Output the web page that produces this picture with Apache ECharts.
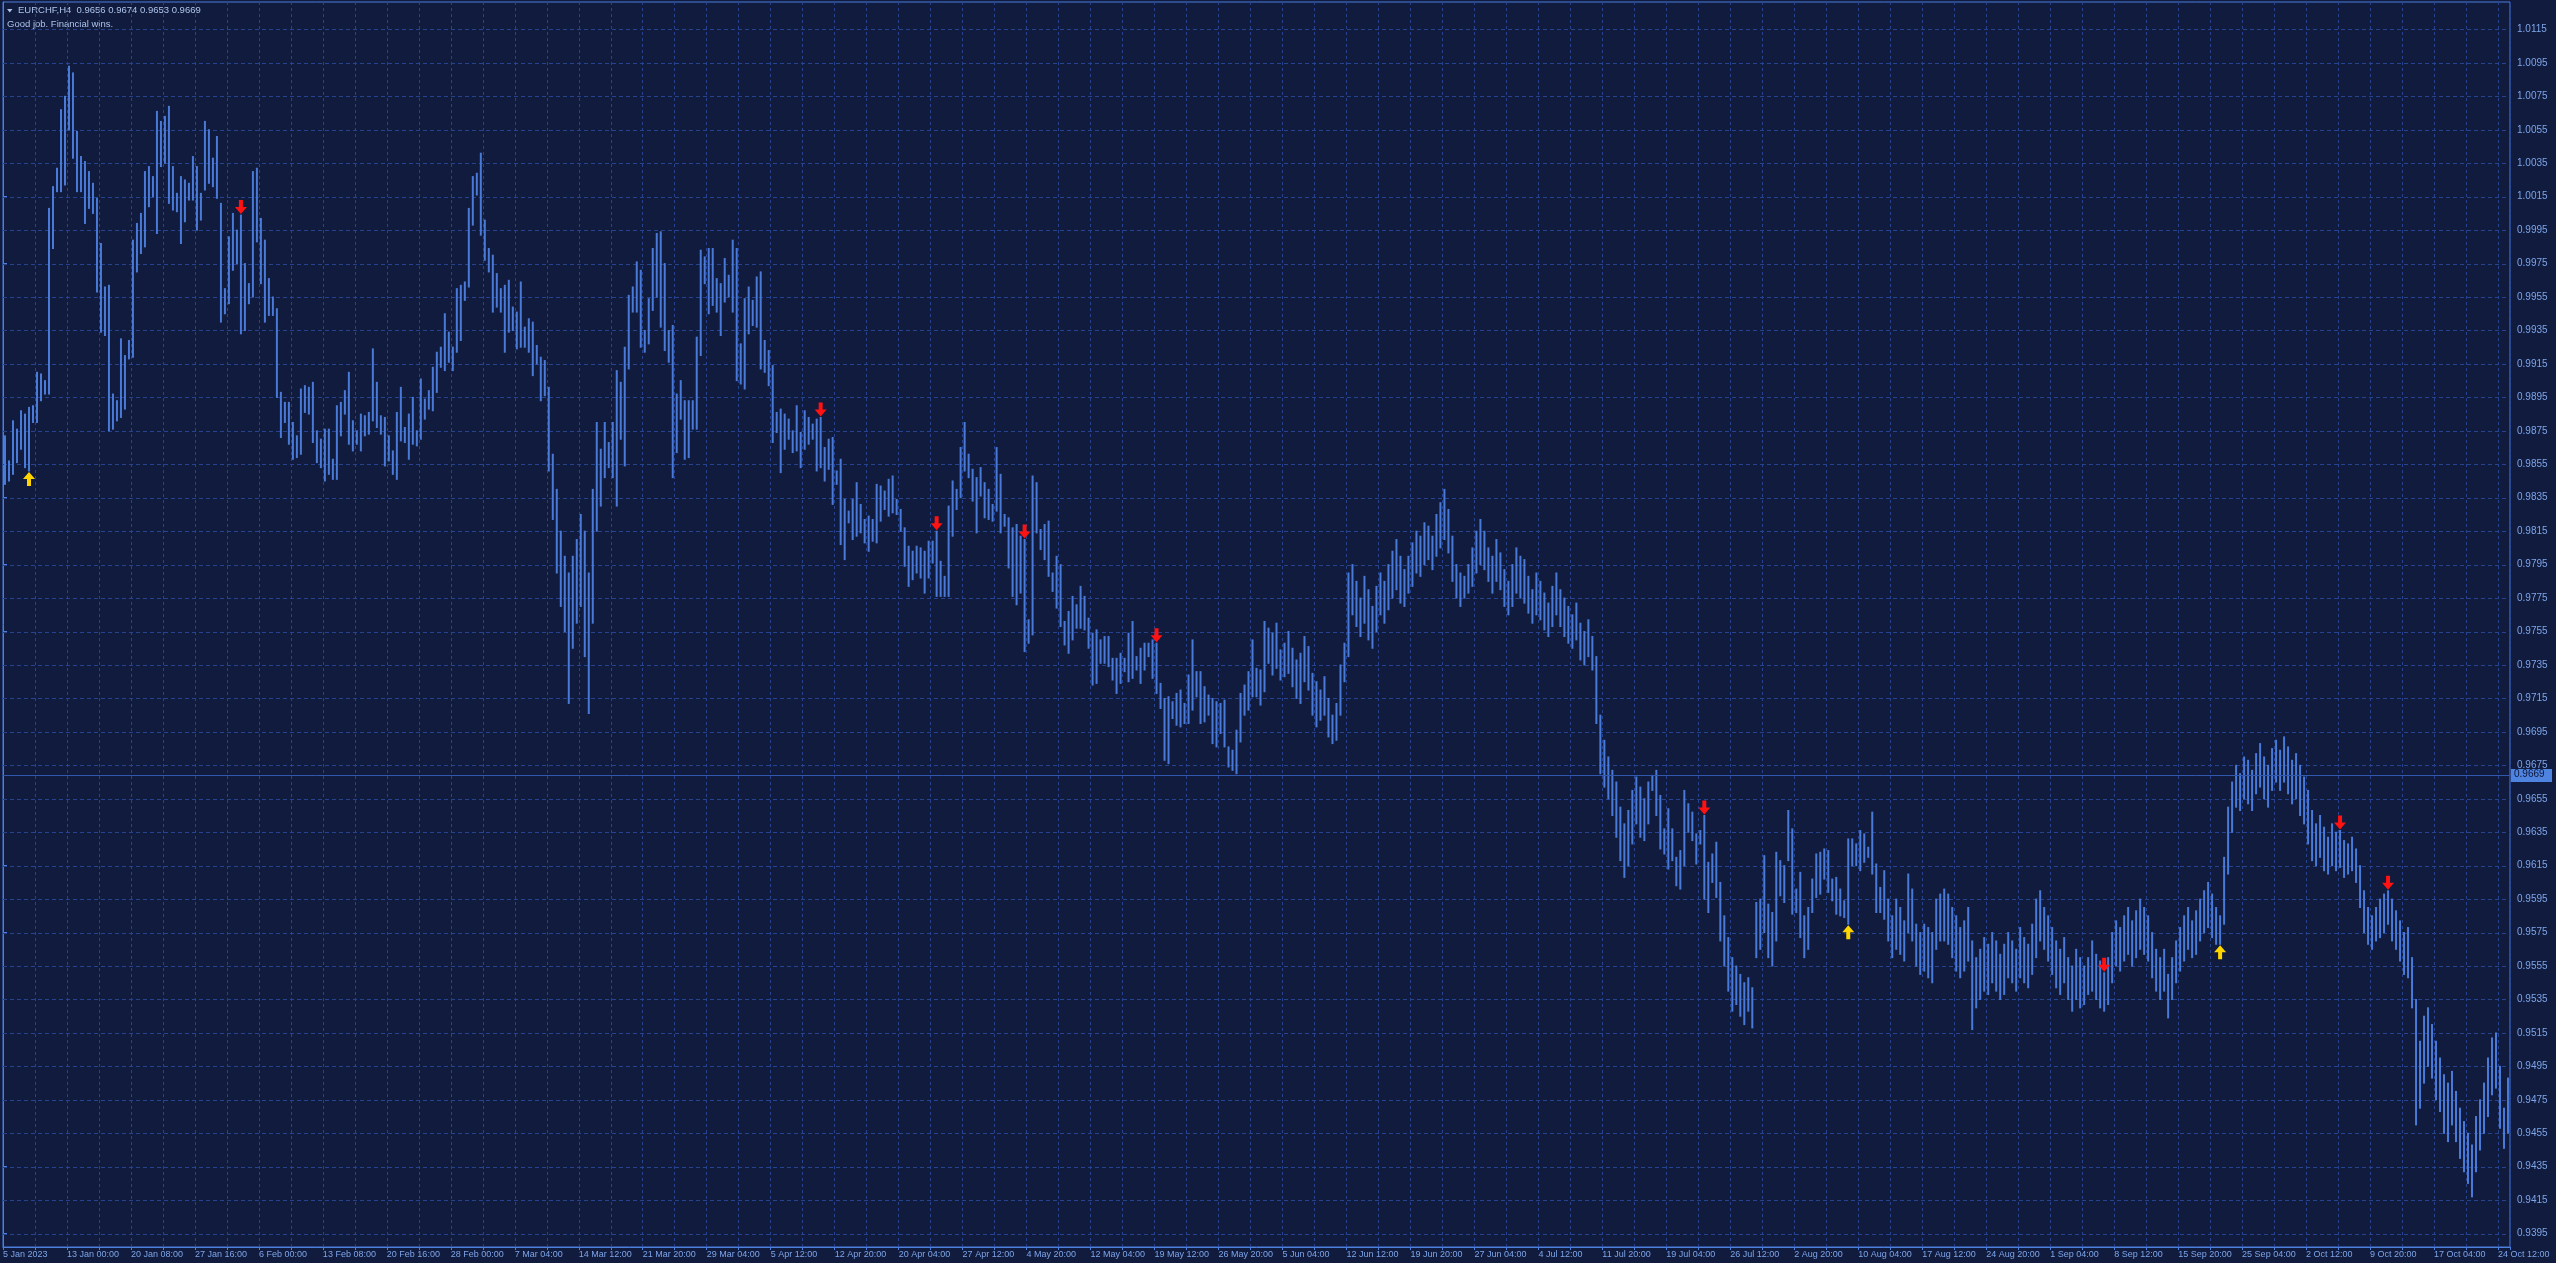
<!DOCTYPE html>
<html><head><meta charset="utf-8">
<script src="https://cdn.jsdelivr.net/npm/echarts@6/dist/echarts.min.js"></script>
<style>html,body{margin:0;padding:0;background:#101b3d;overflow:hidden}#c{width:2556px;height:1263px}</style>
</head><body><div id="c"></div>
<script>
const symbolName = 'EURCHF,H4';
const headerOHLC = [0.9656, 0.9674, 0.9653, 0.9669];
const commentText = 'Good job. Financial wins.';
const lastPrice = 0.9669;
const dateLabels = ['5 Jan 2023','13 Jan 00:00','20 Jan 08:00','27 Jan 16:00','6 Feb 00:00','13 Feb 08:00','20 Feb 16:00','28 Feb 00:00','7 Mar 04:00','14 Mar 12:00','21 Mar 20:00','29 Mar 04:00','5 Apr 12:00','12 Apr 20:00','20 Apr 04:00','27 Apr 12:00','4 May 20:00','12 May 04:00','19 May 12:00','26 May 20:00','5 Jun 04:00','12 Jun 12:00','19 Jun 20:00','27 Jun 04:00','4 Jul 12:00','11 Jul 20:00','19 Jul 04:00','26 Jul 12:00','2 Aug 20:00','10 Aug 04:00','17 Aug 12:00','24 Aug 20:00','1 Sep 04:00','8 Sep 12:00','15 Sep 20:00','25 Sep 04:00','2 Oct 12:00','9 Oct 20:00','17 Oct 04:00','24 Oct 12:00'];
const priceTicks = [0.9395,0.9415,0.9435,0.9455,0.9475,0.9495,0.9515,0.9535,0.9555,0.9575,0.9595,0.9615,0.9635,0.9655,0.9675,0.9695,0.9715,0.9735,0.9755,0.9775,0.9795,0.9815,0.9835,0.9855,0.9875,0.9895,0.9915,0.9935,0.9955,0.9975,0.9995,1.0015,1.0035,1.0055,1.0075,1.0095,1.0115];

const high = [
0.9872,0.9857,0.9881,0.9876,0.9887,0.9885,0.9889,0.9890,0.9910,0.9909,
0.9905,1.0008,1.0021,1.0032,1.0067,1.0075,1.0093,1.0089,1.0054,1.0039,
1.0036,1.0030,1.0023,1.0014,0.9987,0.9961,0.9962,0.9897,0.9893,0.9930,
0.9920,0.9929,0.9989,0.9999,1.0005,1.0030,1.0033,1.0027,1.0066,1.0060,
1.0063,1.0069,1.0033,1.0017,1.0027,1.0025,1.0023,1.0039,1.0033,1.0017,
1.0060,1.0055,1.0038,1.0051,1.0011,0.9960,0.9991,1.0005,0.9995,1.0004,
0.9975,0.9963,1.0030,1.0032,1.0002,0.9989,0.9966,0.9955,0.9948,0.9898,
0.9892,0.9892,0.9880,0.9872,0.9900,0.9902,0.9901,0.9904,0.9875,0.9870,
0.9876,0.9876,0.9858,0.9890,0.9892,0.9899,0.9910,0.9881,0.9875,0.9885,
0.9884,0.9886,0.9924,0.9904,0.9884,0.9883,0.9872,0.9863,0.9886,0.9901,
0.9877,0.9885,0.9895,0.9875,0.9906,0.9894,0.9899,0.9913,0.9922,0.9925,
0.9945,0.9934,0.9925,0.9960,0.9962,0.9964,1.0008,1.0027,1.0029,1.0041,
1.0001,0.9984,0.9980,0.9969,0.9960,0.9962,0.9965,0.9949,0.9946,0.9964,
0.9937,0.9942,0.9940,0.9926,0.9919,0.9917,0.9901,0.9861,0.9840,0.9815,
0.9800,0.9790,0.9800,0.9810,0.9825,0.9815,0.9790,0.9840,0.9880,0.9864,
0.9880,0.9868,0.9880,0.9911,0.9904,0.9925,0.9956,0.9961,0.9976,0.9971,
0.9935,0.9954,0.9984,0.9993,0.9994,0.9975,0.9935,0.9938,0.9897,0.9905,
0.9893,0.9893,0.9893,0.9931,0.9983,0.9979,0.9984,0.9984,0.9966,0.9963,
0.9978,0.9968,0.9989,0.9984,0.9927,0.9954,0.9961,0.9953,0.9967,0.9970,
0.9929,0.9923,0.9914,0.9886,0.9888,0.9885,0.9882,0.9875,0.9890,0.9874,
0.9887,0.9883,0.9879,0.9882,0.9883,0.9865,0.9870,0.9871,0.9851,0.9858,
0.9834,0.9827,0.9834,0.9844,0.9831,0.9822,0.9824,0.9822,0.9843,0.9842,
0.9839,0.9846,0.9848,0.9834,0.9828,0.9817,0.9806,0.9803,0.9806,0.9805,
0.9803,0.9809,0.9809,0.9815,0.9797,0.9788,0.9830,0.9845,0.9840,0.9865,
0.9880,0.9861,0.9852,0.9847,0.9853,0.9844,0.9840,0.9831,0.9865,0.9849,
0.9825,0.9823,0.9817,0.9819,0.9812,0.9810,0.9762,0.9848,0.9844,0.9816,
0.9819,0.9821,0.9790,0.9800,0.9795,0.9761,0.9767,0.9776,0.9771,0.9782,
0.9776,0.9763,0.9754,0.9756,0.9750,0.9752,0.9752,0.9739,0.9739,0.9742,
0.9739,0.9754,0.9761,0.9740,0.9745,0.9748,0.9748,0.9750,0.9748,0.9724,
0.9715,0.9716,0.9713,0.9718,0.9720,0.9712,0.9729,0.9750,0.9731,0.9731,
0.9722,0.9717,0.9715,0.9713,0.9712,0.9714,0.9686,0.9684,0.9696,0.9718,
0.9723,0.9731,0.9750,0.9733,0.9732,0.9761,0.9757,0.9754,0.9760,0.9744,
0.9748,0.9755,0.9745,0.9738,0.9742,0.9752,0.9746,0.9730,0.9725,0.9720,
0.9728,0.9715,0.9705,0.9712,0.9735,0.9748,0.9790,0.9795,0.9785,0.9775,
0.9788,0.9780,0.9770,0.9782,0.9790,0.9785,0.9795,0.9803,0.9810,0.9800,
0.9792,0.9800,0.9808,0.9815,0.9812,0.9820,0.9818,0.9812,0.9825,0.9832,
0.9840,0.9828,0.9812,0.9795,0.9790,0.9788,0.9795,0.9805,0.9815,0.9822,
0.9815,0.9805,0.9800,0.9810,0.9802,0.9792,0.9785,0.9795,0.9805,0.9800,
0.9798,0.9788,0.9780,0.9790,0.9785,0.9778,0.9772,0.9782,0.9790,0.9780,
0.9775,0.9770,0.9765,0.9772,0.9760,0.9755,0.9762,0.9752,0.9740,0.9705,
0.9690,0.9680,0.9672,0.9665,0.9650,0.9640,0.9648,0.9660,0.9668,0.9662,
0.9655,0.9665,0.9669,0.9672,0.9657,0.9637,0.9649,0.9637,0.9620,0.9624,
0.9660,0.9652,0.9647,0.9634,0.9636,0.9645,0.9617,0.9622,0.9629,0.9605,
0.9585,0.9572,0.9560,0.9555,0.9550,0.9545,0.9548,0.9542,0.9593,0.9595,
0.9621,0.9592,0.9587,0.9623,0.9618,0.9615,0.9648,0.9637,0.9601,0.9611,
0.9585,0.9590,0.9607,0.9622,0.9623,0.9625,0.9624,0.9607,0.9608,0.9601,
0.9594,0.9631,0.9631,0.9628,0.9636,0.9634,0.9626,0.9647,0.9616,0.9602,
0.9612,0.9595,0.9585,0.9595,0.9590,0.9582,0.9610,0.9601,0.9580,0.9575,
0.9580,0.9578,0.9575,0.9595,0.9598,0.9601,0.9598,0.9590,0.9585,0.9578,
0.9582,0.9590,0.9570,0.9560,0.9565,0.9572,0.9568,0.9575,0.9570,0.9562,
0.9568,0.9575,0.9570,0.9565,0.9578,0.9572,0.9568,0.9580,0.9595,0.9600,
0.9590,0.9585,0.9578,0.9570,0.9565,0.9572,0.9560,0.9555,0.9565,0.9560,
0.9555,0.9560,0.9570,0.9562,0.9558,0.9551,0.9560,0.9575,0.9582,0.9578,
0.9585,0.9590,0.9582,0.9588,0.9595,0.9590,0.9585,0.9575,0.9565,0.9560,
0.9565,0.9550,0.9560,0.9570,0.9578,0.9585,0.9590,0.9582,0.9588,0.9595,
0.9600,0.9605,0.9598,0.9590,0.9585,0.9620,0.9650,0.9665,0.9675,0.9670,
0.9680,0.9678,0.9672,0.9682,0.9688,0.9680,0.9675,0.9685,0.9690,0.9684,
0.9692,0.9686,0.9678,0.9682,0.9675,0.9668,0.9660,0.9648,0.9640,0.9645,
0.9638,0.9632,0.9640,0.9635,0.9636,0.9630,0.9628,0.9632,0.9625,0.9615,
0.9600,0.9590,0.9585,0.9590,0.9595,0.9598,0.9600,0.9595,0.9588,0.9582,
0.9575,0.9578,0.9560,0.9535,0.9510,0.9525,0.9530,0.9520,0.9510,0.9500,
0.9490,0.9485,0.9492,0.9480,0.9470,0.9462,0.9455,0.9448,0.9465,0.9475,
0.9485,0.9500,0.9512,0.9515,0.9495,0.9470,0.9488
];

const low = [
0.9843,0.9845,0.9849,0.9856,0.9864,0.9853,0.9851,0.9880,0.9880,0.9893,
0.9897,0.9897,0.9984,1.0018,1.0018,1.0022,1.0055,1.0038,1.0018,1.0018,
0.9999,1.0008,1.0005,0.9958,0.9934,0.9932,0.9875,0.9876,0.9881,0.9883,
0.9888,0.9918,0.9919,0.9970,0.9981,0.9985,1.0009,1.0015,0.9993,1.0033,
1.0035,1.0011,1.0007,1.0006,0.9987,1.0000,1.0013,1.0013,0.9995,1.0001,
1.0019,1.0023,1.0021,1.0014,0.9940,0.9945,0.9951,0.9971,0.9975,0.9933,
0.9935,0.9951,0.9955,0.9988,0.9963,0.9940,0.9944,0.9944,0.9895,0.9871,
0.9880,0.9867,0.9858,0.9859,0.9861,0.9886,0.9885,0.9868,0.9856,0.9853,
0.9845,0.9849,0.9846,0.9846,0.9872,0.9885,0.9867,0.9863,0.9867,0.9863,
0.9872,0.9873,0.9881,0.9877,0.9873,0.9854,0.9857,0.9849,0.9846,0.9869,
0.9868,0.9858,0.9867,0.9866,0.9870,0.9882,0.9888,0.9887,0.9898,0.9913,
0.9911,0.9916,0.9911,0.9922,0.9929,0.9953,0.9961,0.9998,1.0016,0.9992,
0.9977,0.9970,0.9946,0.9949,0.9946,0.9922,0.9934,0.9935,0.9924,0.9925,
0.9925,0.9922,0.9908,0.9915,0.9893,0.9896,0.9851,0.9822,0.9790,0.9770,
0.9755,0.9712,0.9745,0.9760,0.9770,0.9740,0.9706,0.9760,0.9815,0.9830,
0.9847,0.9853,0.9847,0.9830,0.9870,0.9854,0.9912,0.9946,0.9946,0.9925,
0.9922,0.9927,0.9947,0.9955,0.9937,0.9923,0.9916,0.9847,0.9862,0.9882,
0.9858,0.9859,0.9876,0.9876,0.9920,0.9963,0.9945,0.9950,0.9946,0.9932,
0.9952,0.9955,0.9946,0.9905,0.9903,0.9900,0.9933,0.9938,0.9937,0.9912,
0.9910,0.9902,0.9868,0.9874,0.9850,0.9864,0.9870,0.9862,0.9863,0.9853,
0.9864,0.9867,0.9870,0.9851,0.9853,0.9845,0.9852,0.9831,0.9843,0.9807,
0.9798,0.9820,0.9810,0.9812,0.9814,0.9808,0.9803,0.9809,0.9808,0.9821,
0.9828,0.9824,0.9826,0.9825,0.9815,0.9794,0.9782,0.9786,0.9790,0.9787,
0.9778,0.9787,0.9796,0.9776,0.9776,0.9776,0.9776,0.9812,0.9828,0.9835,
0.9851,0.9847,0.9833,0.9814,0.9836,0.9823,0.9822,0.9821,0.9827,0.9814,
0.9818,0.9793,0.9776,0.9771,0.9778,0.9743,0.9748,0.9753,0.9814,0.9804,
0.9798,0.9788,0.9779,0.9769,0.9758,0.9747,0.9742,0.9750,0.9757,0.9757,
0.9756,0.9745,0.9723,0.9724,0.9736,0.9736,0.9734,0.9726,0.9718,0.9724,
0.9731,0.9725,0.9727,0.9732,0.9724,0.9732,0.9740,0.9727,0.9718,0.9709,
0.9678,0.9676,0.9703,0.9699,0.9698,0.9700,0.9700,0.9708,0.9716,0.9700,
0.9701,0.9705,0.9688,0.9686,0.9694,0.9686,0.9674,0.9672,0.9670,0.9689,
0.9705,0.9708,0.9716,0.9716,0.9711,0.9719,0.9736,0.9729,0.9733,0.9726,
0.9728,0.9730,0.9722,0.9715,0.9712,0.9725,0.9720,0.9705,0.9698,0.9702,
0.9705,0.9692,0.9688,0.9690,0.9705,0.9725,0.9740,0.9765,0.9758,0.9752,
0.9760,0.9750,0.9745,0.9755,0.9765,0.9760,0.9768,0.9775,0.9780,0.9772,
0.9770,0.9778,0.9782,0.9790,0.9788,0.9795,0.9798,0.9792,0.9800,0.9805,
0.9810,0.9802,0.9785,0.9775,0.9770,0.9775,0.9778,0.9782,0.9790,0.9795,
0.9792,0.9785,0.9778,0.9785,0.9780,0.9770,0.9765,0.9770,0.9778,0.9775,
0.9772,0.9766,0.9760,0.9765,0.9762,0.9756,0.9752,0.9758,0.9765,0.9758,
0.9752,0.9748,0.9745,0.9750,0.9738,0.9735,0.9740,0.9732,0.9700,0.9670,
0.9662,0.9655,0.9645,0.9632,0.9618,0.9608,0.9615,0.9628,0.9640,0.9632,
0.9630,0.9640,0.9660,0.9645,0.9625,0.9622,0.9613,0.9618,0.9603,0.9601,
0.9615,0.9635,0.9630,0.9616,0.9628,0.9595,0.9587,0.9605,0.9596,0.9570,
0.9555,0.9540,0.9528,0.9532,0.9525,0.9520,0.9528,0.9518,0.9560,0.9565,
0.9575,0.9560,0.9555,0.9570,0.9597,0.9593,0.9618,0.9586,0.9587,0.9572,
0.9560,0.9565,0.9587,0.9596,0.9598,0.9607,0.9599,0.9594,0.9586,0.9585,
0.9584,0.9580,0.9615,0.9615,0.9612,0.9617,0.9620,0.9610,0.9587,0.9587,
0.9583,0.9570,0.9560,0.9565,0.9562,0.9558,0.9575,0.9570,0.9555,0.9550,
0.9552,0.9548,0.9545,0.9565,0.9570,0.9570,0.9568,0.9560,0.9552,0.9548,
0.9552,0.9558,0.9517,0.9530,0.9535,0.9540,0.9538,0.9545,0.9540,0.9535,
0.9538,0.9548,0.9545,0.9540,0.9548,0.9545,0.9542,0.9550,0.9560,0.9570,
0.9565,0.9558,0.9550,0.9542,0.9538,0.9545,0.9535,0.9528,0.9535,0.9530,
0.9532,0.9538,0.9540,0.9535,0.9530,0.9528,0.9532,0.9545,0.9555,0.9552,
0.9558,0.9562,0.9555,0.9560,0.9565,0.9562,0.9558,0.9548,0.9540,0.9535,
0.9540,0.9524,0.9535,0.9545,0.9552,0.9558,0.9565,0.9560,0.9562,0.9570,
0.9575,0.9578,0.9572,0.9568,0.9568,0.9580,0.9610,0.9635,0.9650,0.9648,
0.9655,0.9652,0.9648,0.9658,0.9662,0.9655,0.9650,0.9660,0.9665,0.9660,
0.9665,0.9658,0.9652,0.9655,0.9645,0.9640,0.9628,0.9618,0.9615,0.9620,
0.9612,0.9610,0.9615,0.9612,0.9614,0.9608,0.9610,0.9612,0.9605,0.9590,
0.9575,0.9568,0.9565,0.9570,0.9572,0.9575,0.9580,0.9570,0.9565,0.9558,
0.9550,0.9548,0.9530,0.9460,0.9470,0.9485,0.9495,0.9488,0.9475,0.9468,
0.9455,0.9450,0.9460,0.9450,0.9440,0.9432,0.9425,0.9417,0.9432,0.9445,
0.9455,0.9465,0.9478,0.9482,0.9458,0.9446,0.9455
];

const buyArrowBars = [6, 461, 554];
const sellArrowBars = [59, 204, 233, 255, 288, 425, 525, 584, 596];

const BG = '#101b3d', AXIS = '#4d7fdc', GRID = '#25438e', BAR = '#4a7ad8', TXT = '#7ea5ea', HEAD = '#aec3ec';
const FONT = '"Liberation Sans", Arial, sans-serif';

const chart = echarts.init(document.getElementById('c'), null, {renderer: 'canvas'});
const option = {
  backgroundColor: BG,
  animation: false,
  grid: {left: 2, right: 46, top: 2, bottom: 16, show: true, borderColor: AXIS, borderWidth: 1, backgroundColor: 'transparent'},
  xAxis: {
    type: 'value', min: 0, max: high.length, interval: 8,
    axisLine: {show: true, onZero: false, lineStyle: {color: AXIS, width: 1}},
    axisTick: {show: true, length: 3, lineStyle: {color: AXIS}},
    axisLabel: {
      show: true, align: 'left', margin: 3, color: TXT, fontSize: 9, fontFamily: FONT, hideOverlap: false,
      formatter: v => (v % 16 === 0 && v / 16 < dateLabels.length) ? dateLabels[v / 16] : ''
    },
    splitLine: {show: true, lineStyle: {color: GRID, type: [3, 3], width: 1}}
  },
  yAxis: {
    type: 'value', position: 'right', min: 0.9387, max: 1.01314,
    axisLine: {show: true, lineStyle: {color: AXIS, width: 1}},
    axisTick: {show: true, length: 4, customValues: priceTicks, lineStyle: {color: AXIS}},
    axisLabel: {show: true, customValues: priceTicks, margin: 7, color: TXT, fontSize: 10, fontFamily: FONT,
      formatter: v => Number(v).toFixed(4)},
    splitLine: {show: false}
  },
  graphic: [
    {type: 'polygon', shape: {points: [[7, 9], [12.5, 9], [9.75, 12.5]]}, style: {fill: HEAD}},
    {type: 'text', left: 18, top: 5, style: {text: symbolName + '  ' + headerOHLC.map(v => v.toFixed(4)).join(' '), fill: HEAD, font: '9.5px ' + FONT}},
    {type: 'text', left: 7, top: 19, style: {text: commentText, fill: HEAD, font: '9.5px ' + FONT}}
  ],
  series: [
    {
      type: 'custom', silent: true, z: 1, clip: false,
      data: priceTicks.map(p => [0, p]),
      encode: {x: 0, y: 1},
      renderItem: (params, api) => {
        const y = Math.round(api.coord([0, api.value(1)])[1]) + 0.5;
        const cs = params.coordSys;
        return {type: 'line', shape: {x1: cs.x, y1: y, x2: cs.x + cs.width, y2: y},
          style: {stroke: GRID, lineWidth: 1, lineDash: [4, 3]}};
      }
    },
    {
      type: 'custom', z: 3, clip: true,
      data: high.map((h, i) => [i + 0.5, low[i], h]),
      encode: {x: 0, y: [1, 2]},
      renderItem: (params, api) => {
        const x = api.value(0);
        const a = api.coord([x, api.value(1)]);
        const b = api.coord([x, api.value(2)]);
        return {type: 'line', shape: {x1: a[0], y1: a[1] + 0.5, x2: b[0], y2: b[1] - 0.5},
          style: {stroke: BAR, lineWidth: 2}};
      }
    },
    {
      type: 'custom', z: 4, clip: false, silent: true,
      data: [[0, lastPrice]],
      encode: {x: 0, y: 1},
      renderItem: (params, api) => {
        const y = Math.round(api.coord([0, api.value(1)])[1]) + 0.5;
        const cs = params.coordSys;
        const xr = cs.x + cs.width;
        return {type: 'group', children: [
          {type: 'line', shape: {x1: cs.x, y1: y, x2: xr, y2: y}, style: {stroke: '#3258ae', lineWidth: 1}},
          {type: 'rect', shape: {x: xr + 1, y: y - 6.5, width: 41, height: 13}, style: {fill: '#4f83e0'}},
          {type: 'text', x: xr + 4, y: y - 6, style: {text: api.value(1).toFixed(4), fill: '#0d1738', font: '10px ' + FONT, textVerticalAlign: 'top'}}
        ]};
      }
    },
    {
      type: 'scatter', z: 5, silent: true,
      data: sellArrowBars.map(i => [i + 0.5, high[i]]),
      symbol: 'path://M4,0L8,0L8,7L12,7L6,14L0,7L4,7Z', symbolSize: [12, 14], symbolOffset: [0, -8],
      itemStyle: {color: '#ff1212', opacity: 1}
    },
    {
      type: 'scatter', z: 5, silent: true,
      data: buyArrowBars.map(i => [i + 0.5, low[i]]),
      symbol: 'path://M6,0L12,7L8,7L8,14L4,14L4,7L0,7Z', symbolSize: [12, 14], symbolOffset: [0, 8],
      itemStyle: {color: '#ffd400', opacity: 1}
    }
  ]
};
chart.setOption(option);
</script>
</body></html>
